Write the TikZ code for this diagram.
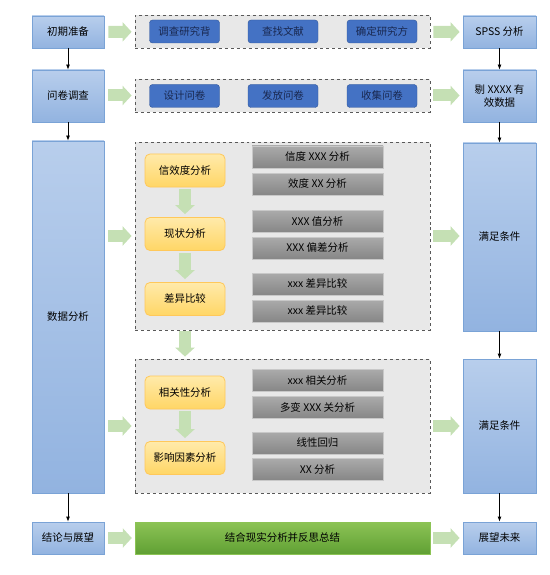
\documentclass[tikz,border=0pt]{standalone}
\usepackage{fontspec}
\setmainfont{Noto Sans CJK SC}
\usetikzlibrary{arrows.meta}

\definecolor{boxtop}{RGB}{184,206,236}
\definecolor{boxbot}{RGB}{146,179,224}
\definecolor{boxedge}{RGB}{122,163,214}
\definecolor{grpfill}{RGB}{232,232,232}
\definecolor{taskfill}{RGB}{68,114,196}
\definecolor{taskedge}{RGB}{47,85,151}
\definecolor{tasktext}{RGB}{25,40,80}
\definecolor{methtop}{RGB}{255,234,170}
\definecolor{methbot}{RGB}{255,214,102}
\definecolor{methedge}{RGB}{255,200,90}
\definecolor{itemtop}{RGB}{170,170,170}
\definecolor{itembot}{RGB}{134,134,134}
\definecolor{itemedge}{RGB}{200,200,200}
\definecolor{bartop}{RGB}{140,195,85}
\definecolor{barbot}{RGB}{96,160,52}
\definecolor{flowgreen}{RGB}{197,224,180}

\begin{document}
\begin{tikzpicture}[x=1bp, y=-1bp,
      every node/.style = {font=\fontsize{10.5}{13}\selectfont, align=center, inner sep=1bp},
      stage/.style = {rectangle, draw=boxedge, line width=0.8bp,
        top color=boxtop, bottom color=boxbot, minimum width=72bp},
      group/.style = {rectangle, draw=black!65, dashed, line width=0.8bp,
        fill=grpfill, minimum width=295bp},
      task/.style = {rectangle, rounded corners=3bp, draw=taskedge, fill=taskfill,
        text=tasktext, minimum width=70bp, minimum height=23bp},
      method/.style = {rectangle, rounded corners=5bp, draw=methedge, line width=0.8bp,
        top color=methtop, bottom color=methbot, minimum width=80bp, minimum height=33bp},
      item/.style = {rectangle, draw=itemedge, top color=itemtop, bottom color=itembot,
        minimum width=131bp, minimum height=22bp},
      link/.style = {draw, line width=0.8bp, -{Latex[length=5bp,width=4bp]}},
      flow/.style = {draw=flowgreen, line width=12bp, -{Triangle[length=9bp,width=19bp]}}]
  \useasboundingbox (0,0) rectangle (550,575);

  % left column
  \node[stage, minimum height=32bp] (prep) at (68,32) {初期准备};
  \node[stage, minimum height=52bp] (survey) at (68,96) {问卷调查};
  \node[stage, minimum height=352bp] (analysis) at (68,317) {数据分析};
  \node[stage, minimum height=32bp] (concl) at (68,538) {结论与展望};

  % right column
  \node[stage, minimum height=32bp, minimum width=73bp] (spss) at (499.5,32) {SPSS 分析};
  \node[stage, minimum height=52bp, minimum width=73bp] (clean) at (499.5,96) {剔 XXXX 有\\效数据};
  \node[stage, minimum height=188bp, minimum width=73bp] (ok1) at (499.5,237) {满足条件};
  \node[stage, minimum height=134bp, minimum width=73bp] (ok2) at (499.5,426) {满足条件};
  \node[stage, minimum height=32bp, minimum width=73bp] (future) at (499.5,538) {展望未来};

  % middle groups
  \node[group, minimum height=33bp] (grp1) at (282.5,31.5) {};
  \node[group, minimum height=33bp] (grp2) at (282.5,95.5) {};
  \node[group, minimum height=188bp] (grp3) at (282.5,236) {};
  \node[group, minimum height=134bp] (grp4) at (282.5,426) {};
  \node[rectangle, draw=bartop, top color=bartop, bottom color=barbot,
    minimum width=295bp, minimum height=32bp] (bar) at (282.5,538) {结合现实分析并反思总结};

  % tasks
  \node[task] (t1) at (184.5,31.5) {调查研究背};
  \node[task] (t2) at (283,31.5) {查找文献};
  \node[task] (t3) at (382,31.5) {确定研究方};
  \node[task] (t4) at (184.5,96) {设计问卷};
  \node[task] (t5) at (283,96) {发放问卷};
  \node[task] (t6) at (382,96) {收集问卷};

  % methods
  \node[method] (m1) at (185,170.5) {信效度分析};
  \node[method] (m2) at (185,234) {现状分析};
  \node[method] (m3) at (185,299) {差异比较};
  \node[method] (m4) at (185,392.5) {相关性分析};
  \node[method] (m5) at (185,458) {影响因素分析};

  % items
  \foreach \y/\txt [count=\i] in {157/信度 XXX 分析, 184/效度 XX 分析,
      221.5/XXX 值分析, 248/XXX 偏差分析, 284/xxx 差异比较, 311/xxx 差异比较,
      380.5/xxx 相关分析, 407.5/多变 XXX 关分析, 443/线性回归, 469.5/XX 分析}
    \node[item] (i\i) at (317.5,\y) {\txt};

  % black links
  \path[link] (prep) -- (survey);
  \path[link] (survey) -- (analysis);
  \path[link] (analysis) -- (concl);
  \path[link] (spss) -- (clean);
  \path[link] (clean) -- (ok1);
  \path[link] (ok1) -- (ok2);
  \path[link] (ok2) -- (future);

  % green flows
  \path[flow, shorten <=4bp, shorten >=3bp] (prep) -- (grp1);
  \path[flow, shorten <=3bp, shorten >=3bp] (grp1) -- (spss);
  \path[flow, shorten <=4bp, shorten >=3bp] (survey.east |- grp2.west) -- (grp2.west);
  \path[flow, shorten <=3bp, shorten >=3bp] (grp2.east) -- (grp2.east -| clean.west);
  \path[flow, shorten <=4bp, shorten >=3bp] (analysis.east |- grp3.west) -- (grp3.west);
  \path[flow, shorten <=3bp, shorten >=3bp] (grp3.east) -- (grp3.east -| ok1.west);
  \path[flow, shorten <=4bp, shorten >=3bp] (analysis.east |- grp4.west) -- (grp4.west);
  \path[flow, shorten <=3bp, shorten >=3bp] (grp4.east) -- (ok2.west |- grp4.east);
  \path[flow, shorten <=4bp, shorten >=3bp] (concl) -- (bar);
  \path[flow, shorten <=3bp, shorten >=3bp] (bar) -- (future);
  \path[flow, shorten <=2bp, shorten >=3bp] (m1) -- (m2);
  \path[flow, shorten <=2bp, shorten >=3bp] (m2) -- (m3);
  \path[flow, shorten <=2bp, shorten >=3bp] (m4) -- (m5);
  \path[flow, shorten <=1bp, shorten >=2bp] (m3 |- grp3.south) -- (m3 |- grp4.north);
\end{tikzpicture}
\end{document}
